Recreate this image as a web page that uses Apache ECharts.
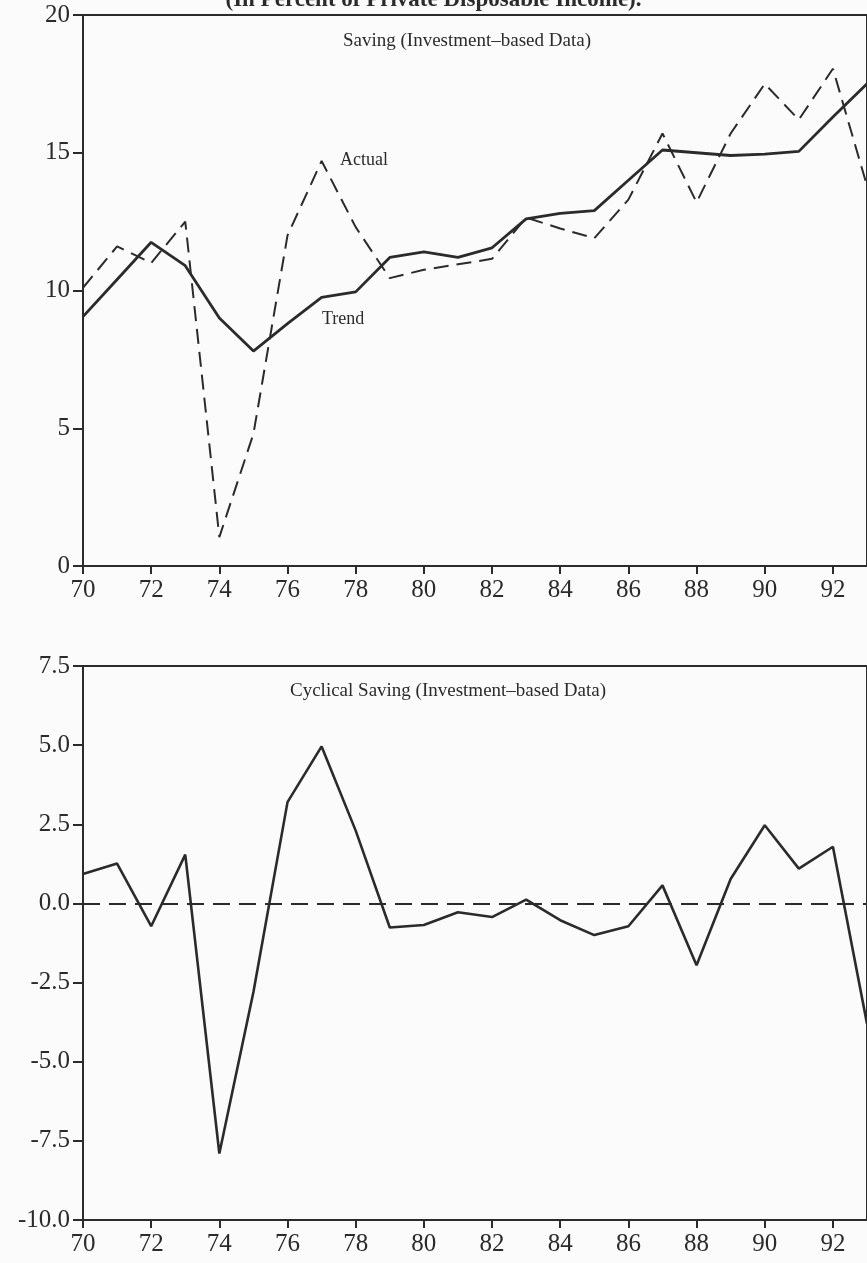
<!DOCTYPE html>
<html>
<head>
<meta charset="utf-8">
<script src="https://cdn.jsdelivr.net/npm/echarts@6/dist/echarts.min.js"></script>
<style>
  html, body { margin: 0; padding: 0; background: #fbfbfb; }
  #chart { width: 867px; height: 1263px; }
</style>
</head>
<body>
<div id="chart"></div>
<script>
const years = [70, 71, 72, 73, 74, 75, 76, 77, 78, 79, 80, 81, 82, 83, 84, 85, 86, 87, 88, 89, 90, 91, 92, 93]
const actual = [10.1, 11.6, 11.0, 12.5, 1.05, 4.8, 12.0, 14.7, 12.3, 10.45, 10.75, 10.95, 11.15, 12.65, 12.25, 11.9, 13.3, 15.7, 13.2, 15.7, 17.5, 16.2, 18.05, 13.8]
const trend = [9.05, 10.4, 11.75, 10.9, 9.0, 7.8, 8.8, 9.75, 9.95, 11.2, 11.4, 11.2, 11.55, 12.6, 12.8, 12.9, 14.0, 15.1, 15.0, 14.9, 14.95, 15.05, 16.3, 17.5]
const cyclical = [0.93, 1.26, -0.72, 1.54, -7.9, -2.8, 3.2, 4.96, 2.3, -0.76, -0.68, -0.28, -0.43, 0.12, -0.53, -1.0, -0.72, 0.57, -1.95, 0.77, 2.47, 1.1, 1.79, -3.8]
const xTicks = [70, 72, 74, 76, 78, 80, 82, 84, 86, 88, 90, 92]

const ink = '#2b2b2b'
const serif = '"Liberation Serif", "DejaVu Serif", serif'
const pairs = arr => years.map((y, i) => [y, arr[i]])

const chart = echarts.init(document.getElementById('chart'), null, { renderer: 'canvas' })

function xAxis(gridIndex) {
  return {
    type: 'value', gridIndex, min: 70, max: 93, interval: 2,
    axisLine: { show: true, onZero: false, lineStyle: { color: ink, width: 2 } },
    axisTick: { show: true, length: 8, lineStyle: { color: ink, width: 2 } },
    axisLabel: {
      color: ink, fontFamily: serif, fontSize: 25, margin: 12, showMaxLabel: false,
      formatter: v => xTicks.includes(v) ? String(v) : ''
    },
    splitLine: { show: false }
  }
}

function yAxis(gridIndex, min, max, interval, digits) {
  return {
    type: 'value', gridIndex, min, max, interval,
    axisLine: { show: true, onZero: false, lineStyle: { color: ink, width: 2 } },
    axisTick: { show: true, length: 10, lineStyle: { color: ink, width: 2 } },
    axisLabel: { color: ink, fontFamily: serif, fontSize: 25, margin: 13, formatter: v => v.toFixed(digits) },
    splitLine: { show: false }
  }
}

chart.setOption({
  backgroundColor: '#fbfbfb',
  animation: false,
  grid: [
    { left: 83, right: 0, top: 15, height: 551, show: true, borderColor: ink, borderWidth: 2, backgroundColor: 'transparent' },
    { left: 83, right: 0, top: 666, height: 554, show: true, borderColor: ink, borderWidth: 2, backgroundColor: 'transparent' }
  ],
  xAxis: [xAxis(0), xAxis(1)],
  yAxis: [yAxis(0, 0, 20, 5, 0), yAxis(1, -10, 7.5, 2.5, 1)],
  series: [
    {
      name: 'Actual', type: 'line', xAxisIndex: 0, yAxisIndex: 0, data: pairs(actual),
      symbol: 'none', lineStyle: { color: ink, width: 2, type: [15, 8] }
    },
    {
      name: 'Trend', type: 'line', xAxisIndex: 0, yAxisIndex: 0, data: pairs(trend),
      symbol: 'none', lineStyle: { color: ink, width: 2.8 }
    },
    {
      name: 'Cyclical', type: 'line', xAxisIndex: 1, yAxisIndex: 1, data: pairs(cyclical),
      symbol: 'none', lineStyle: { color: ink, width: 2.6 },
      markLine: {
        silent: true, symbol: 'none', label: { show: false },
        lineStyle: { color: ink, width: 2, type: [17, 9] },
        data: [{ yAxis: 0 }]
      }
    }
  ],
  graphic: [
    { type: 'text', left: 'center', top: -11, style: { text: '(In Percent of Private Disposable Income).', font: 'bold 23px ' + serif, fill: ink } },
    { type: 'text', left: 343, top: 32, style: { text: 'Saving (Investment\u2013based Data)', font: '19px ' + serif, fill: ink } },
    { type: 'text', left: 340, top: 151, style: { text: 'Actual', font: '18px ' + serif, fill: ink } },
    { type: 'text', left: 322, top: 310, style: { text: 'Trend', font: '18px ' + serif, fill: ink } },
    { type: 'text', left: 290, top: 682, style: { text: 'Cyclical Saving (Investment\u2013based Data)', font: '19px ' + serif, fill: ink } }
  ]
})
</script>
</body>
</html>
